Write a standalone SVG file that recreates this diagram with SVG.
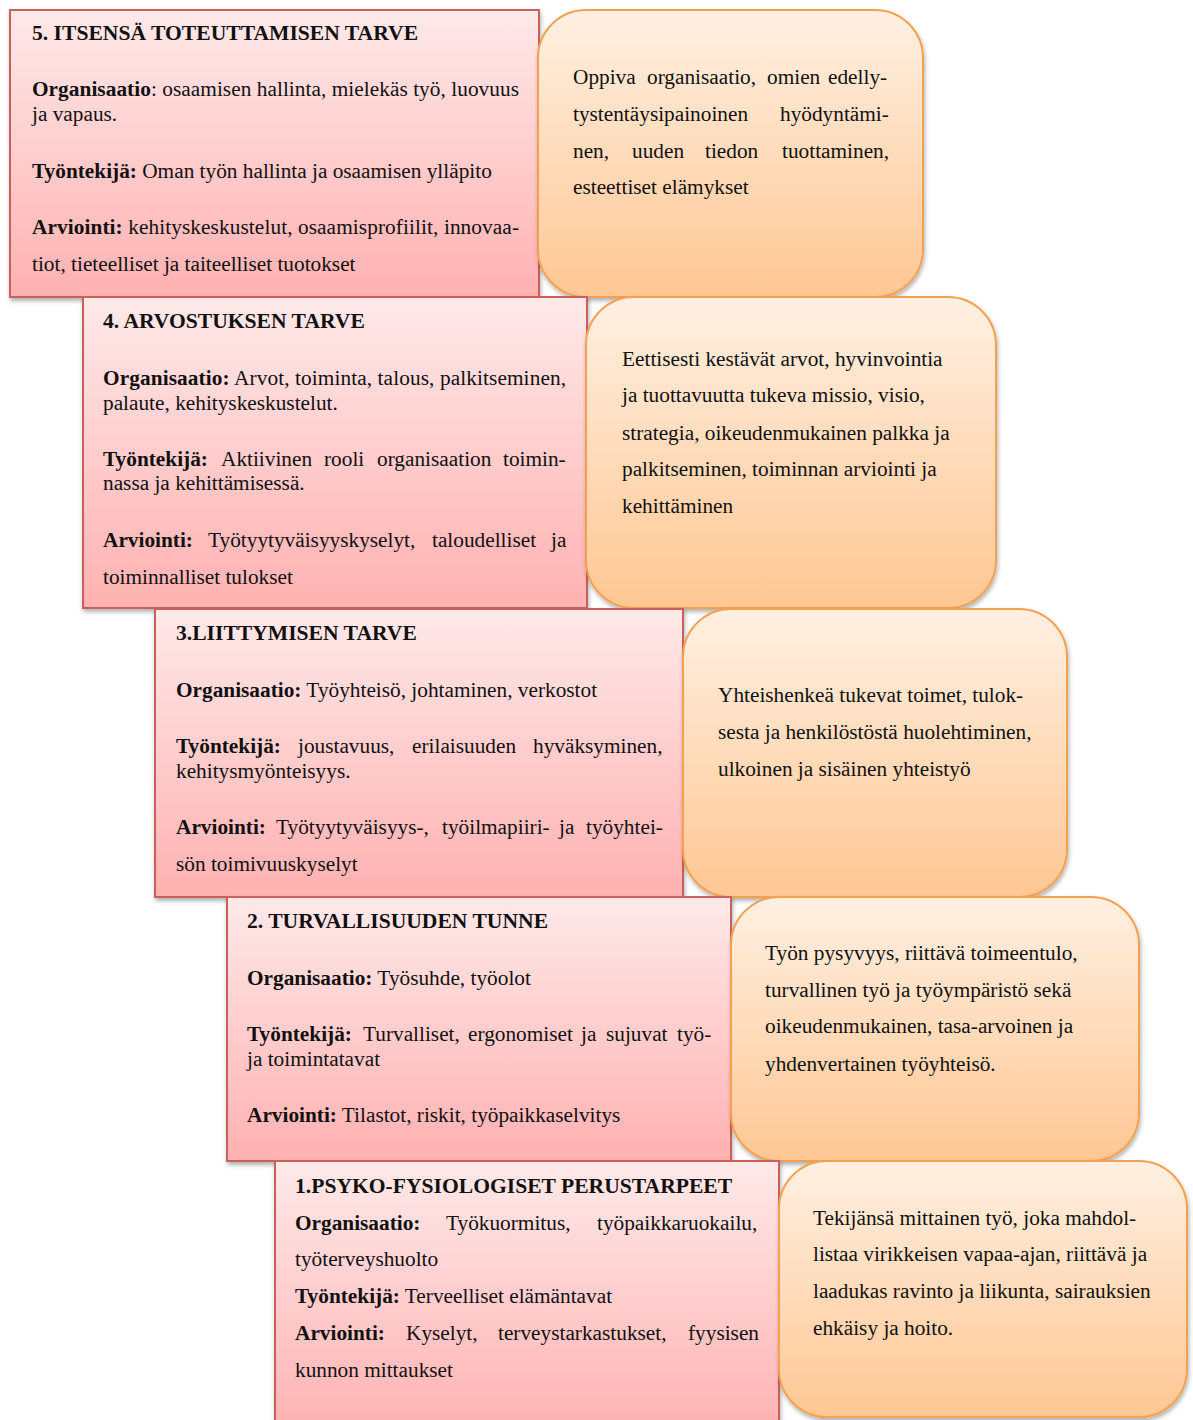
<svg xmlns="http://www.w3.org/2000/svg" width="1193" height="1420" viewBox="0 0 1193 1420">
<defs>
<linearGradient id="pink" x1="0" y1="0" x2="0" y2="1">
<stop offset="0" stop-color="#ffe9e9"/>
<stop offset="1" stop-color="#ffb1b1"/>
</linearGradient>
<linearGradient id="orange" x1="0" y1="0" x2="0" y2="1">
<stop offset="0" stop-color="#fff0e2"/>
<stop offset="1" stop-color="#ffc793"/>
</linearGradient>
<filter id="sh" x="-5%" y="-5%" width="112%" height="115%">
<feDropShadow dx="1" dy="3" stdDeviation="2" flood-color="#000" flood-opacity="0.3"/>
</filter>
</defs>
<style>
.pb{fill:url(#pink);stroke:#c9605c;stroke-width:2;filter:url(#sh)}
.ob{fill:url(#orange);stroke:#f5a050;stroke-width:2;filter:url(#sh)}
text{font-family:'Liberation Serif','Times New Roman',serif;font-size:21.3px;fill:#111}
.h{font-weight:bold;font-size:21.6px}
.b{font-weight:bold}
</style>
<rect width="1193" height="1420" fill="#fff"/>
<g id="connectors"/>

<g id="need5">
<rect class="pb" x="10" y="10" width="529" height="287"/>
<text class="h" x="32" y="40">5. ITSENSÄ TOTEUTTAMISEN TARVE</text>
<text x="32" y="96" textLength="487" lengthAdjust="spacing"><tspan class="b">Organisaatio</tspan>: osaamisen hallinta, mielekäs työ, luovuus</text>
<text x="32" y="121">ja vapaus.</text>
<text x="32" y="178"><tspan class="b">Työntekijä:</tspan> Oman työn hallinta ja osaamisen ylläpito</text>
<text x="32" y="234" textLength="487" lengthAdjust="spacing"><tspan class="b">Arviointi:</tspan> kehityskeskustelut, osaamisprofiilit, innovaa-</text>
<text x="32" y="271">tiot, tieteelliset ja taiteelliset tuotokset</text>
</g>
<g id="result5">
<rect class="ob" x="538" y="10" width="385" height="287" rx="48"/>
<text y="84"><tspan x="573">Oppiva</tspan><tspan x="647">organisaatio,</tspan><tspan x="767">omien</tspan><tspan x="828">edelly-</tspan></text>
<text y="121"><tspan x="573">tystentäysipainoinen</tspan><tspan x="780">hyödyntämi-</tspan></text>
<text y="158"><tspan x="573">nen,</tspan><tspan x="632">uuden</tspan><tspan x="705">tiedon</tspan><tspan x="782">tuottaminen,</tspan></text>
<text x="573" y="194">esteettiset elämykset</text>
</g>

<g id="need4">
<rect class="pb" x="83" y="297" width="504" height="311"/>
<text class="h" x="103" y="328">4. ARVOSTUKSEN TARVE</text>
<text x="103" y="385" textLength="463" lengthAdjust="spacing"><tspan class="b">Organisaatio:</tspan> Arvot, toiminta, talous, palkitseminen,</text>
<text x="103" y="410">palaute, kehityskeskustelut.</text>
<text y="466"><tspan class="b" x="103">Työntekijä:</tspan><tspan x="221">Aktiivinen</tspan><tspan x="324">rooli</tspan><tspan x="377">organisaation</tspan><tspan x="503">toimin-</tspan></text>
<text x="103" y="490">nassa ja kehittämisessä.</text>
<text y="547"><tspan class="b" x="103">Arviointi:</tspan><tspan x="208">Työtyytyväisyyskyselyt,</tspan><tspan x="432">taloudelliset</tspan><tspan x="551">ja</tspan></text>
<text x="103" y="584">toiminnalliset tulokset</text>
</g>
<g id="result4">
<rect class="ob" x="586" y="297" width="410" height="311" rx="48"/>
<text x="622" y="366">Eettisesti kestävät arvot, hyvinvointia</text>
<text x="622" y="402">ja tuottavuutta tukeva missio, visio,</text>
<text x="622" y="440">strategia, oikeudenmukainen palkka ja</text>
<text x="622" y="476">palkitseminen, toiminnan arviointi ja</text>
<text x="622" y="513">kehittäminen</text>
</g>

<g id="need3">
<rect class="pb" x="155" y="609" width="528" height="288"/>
<text class="h" x="176" y="640">3.LIITTYMISEN TARVE</text>
<text x="176" y="697"><tspan class="b">Organisaatio:</tspan> Työyhteisö, johtaminen, verkostot</text>
<text y="753"><tspan class="b" x="176">Työntekijä:</tspan><tspan x="298">joustavuus,</tspan><tspan x="412">erilaisuuden</tspan><tspan x="533">hyväksyminen,</tspan></text>
<text x="176" y="778">kehitysmyönteisyys.</text>
<text y="834"><tspan class="b" x="176">Arviointi:</tspan><tspan x="276">Työtyytyväisyys-,</tspan><tspan x="442">työilmapiiri-</tspan><tspan x="559">ja</tspan><tspan x="586">työyhtei-</tspan></text>
<text x="176" y="871">sön toimivuuskyselyt</text>
</g>
<g id="result3">
<rect class="ob" x="683" y="609" width="384" height="288" rx="48"/>
<text x="718" y="702">Yhteishenkeä tukevat toimet, tulok-</text>
<text x="718" y="739">sesta ja henkilöstöstä huolehtiminen,</text>
<text x="718" y="776">ulkoinen ja sisäinen yhteistyö</text>
</g>

<g id="need2">
<rect class="pb" x="227" y="897" width="504" height="264"/>
<text class="h" x="247" y="928">2. TURVALLISUUDEN TUNNE</text>
<text x="247" y="985"><tspan class="b">Organisaatio:</tspan> Työsuhde, työolot</text>
<text y="1041"><tspan class="b" x="247">Työntekijä:</tspan><tspan x="363">Turvalliset,</tspan><tspan x="468">ergonomiset</tspan><tspan x="581">ja</tspan><tspan x="606">sujuvat</tspan><tspan x="677">työ-</tspan></text>
<text x="247" y="1066">ja toimintatavat</text>
<text x="247" y="1122"><tspan class="b">Arviointi:</tspan> Tilastot, riskit, työpaikkaselvitys</text>
</g>
<g id="result2">
<rect class="ob" x="731" y="897" width="408" height="264" rx="48"/>
<text x="765" y="960">Työn pysyvyys, riittävä toimeentulo,</text>
<text x="765" y="997">turvallinen työ ja työympäristö sekä</text>
<text x="765" y="1033">oikeudenmukainen, tasa-arvoinen ja</text>
<text x="765" y="1071">yhdenvertainen työyhteisö.</text>
</g>

<g id="need1">
<rect class="pb" x="275" y="1161" width="504" height="275"/>
<text class="h" x="295" y="1193">1.PSYKO-FYSIOLOGISET PERUSTARPEET</text>
<text y="1230"><tspan class="b" x="295">Organisaatio:</tspan><tspan x="446">Työkuormitus,</tspan><tspan x="597">työpaikkaruokailu,</tspan></text>
<text x="295" y="1266">työterveyshuolto</text>
<text x="295" y="1303"><tspan class="b">Työntekijä:</tspan> Terveelliset elämäntavat</text>
<text y="1340"><tspan class="b" x="295">Arviointi:</tspan><tspan x="406">Kyselyt,</tspan><tspan x="498">terveystarkastukset,</tspan><tspan x="688">fyysisen</tspan></text>
<text x="295" y="1377">kunnon mittaukset</text>
</g>
<g id="result1">
<rect class="ob" x="779" y="1161" width="408" height="256" rx="48"/>
<text x="813" y="1225">Tekijänsä mittainen työ, joka mahdol-</text>
<text x="813" y="1261">listaa virikkeisen vapaa-ajan, riittävä ja</text>
<text x="813" y="1298">laadukas ravinto ja liikunta, sairauksien</text>
<text x="813" y="1335">ehkäisy ja hoito.</text>
</g>
</svg>
